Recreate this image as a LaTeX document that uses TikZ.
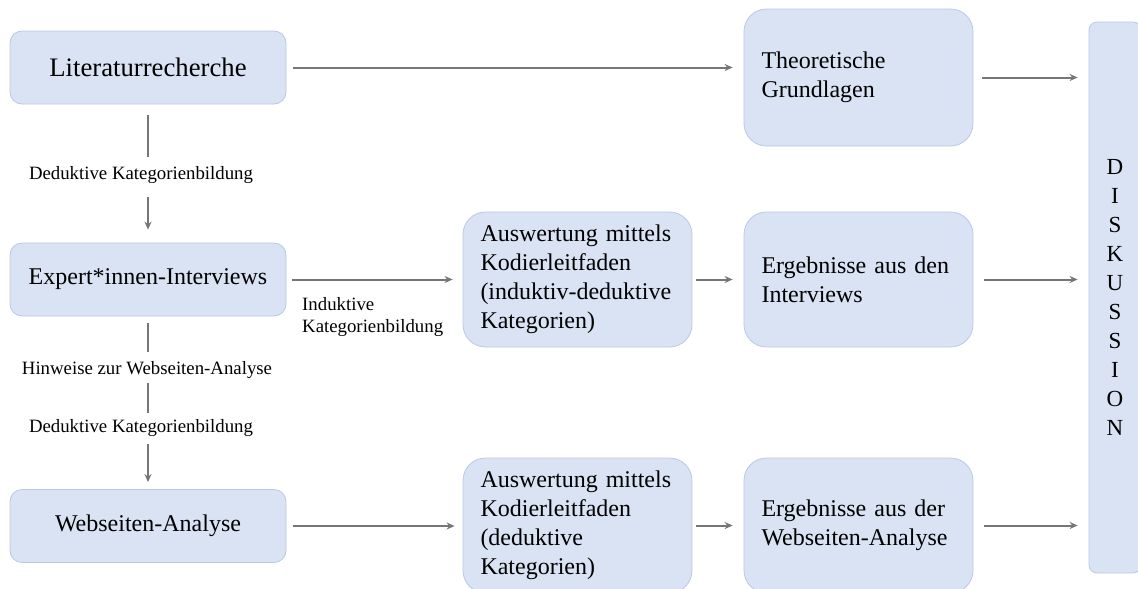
\documentclass[tikz,border=0pt]{standalone}
\usepackage{fontspec}
\setmainfont{Liberation Serif}
\usetikzlibrary{arrows.meta}
\definecolor{box_fill}{RGB}{218,227,243}
\definecolor{box_edge}{RGB}{184,201,230}
\definecolor{edge_gray}{RGB}{118,118,118}

\begin{document}
\begin{tikzpicture}[x=1pt,y=-1pt,->,>={Stealth[length=8pt,width=7pt]}]
    \tikzstyle{box}=[draw=box_edge, line width=0.8pt, fill=box_fill, text=black, font=\fontsize{24}{29}\selectfont]
    \tikzstyle{src}=[style=box, rounded corners=12pt, minimum width=276pt, minimum height=73pt, align=center]
    \tikzstyle{res}=[style=box, rounded corners=22.5pt, minimum width=229pt, minimum height=135pt, text width=194pt, inner xsep=17.5pt, align=left]
    \tikzstyle{disk}=[style=box, rounded corners=8pt, minimum width=52pt, minimum height=551pt, align=center, font=\fontsize{23}{29}\selectfont]
    \tikzstyle{lbl}=[inner sep=0pt, text=black, font=\fontsize{18.8}{22}\selectfont]
    \tikzstyle{every edge}=[draw=edge_gray, line width=2pt]

    \useasboundingbox (0,0) rectangle (1138,589);
    \clip (0,0) rectangle (1138,589);

    \node[src, font=\fontsize{26.7}{32}\selectfont] (lit) at (148,67.5) {Literaturrecherche};
    \node[src] (exp) at (148,279.5) {Expert*innen-Interviews};
    \node[src] (web) at (148,526) {Webseiten-Analyse};

    \node[res, minimum height=137pt] (theo) at (858.5,77.5) {Theoretische\\Grundlagen};
    \node[res] (aus_int) at (577.5,279.5) {Auswertung mittels\\Kodierleitfaden\\(induktiv-deduktive\\Kategorien)};
    \node[res] (erg_int) at (858.5,279.5) {Ergebnisse aus den\\Interviews};
    \node[res] (aus_web) at (577.5,525.5) {Auswertung mittels\\Kodierleitfaden\\(deduktive\\Kategorien)};
    \node[res] (erg_web) at (858.5,525.5) {Ergebnisse aus der\\Webseiten-Analyse};

    \node[disk] (disk) at (1115,297.5) {D\\I\\S\\K\\U\\S\\S\\I\\O\\N};

    \node[lbl] (ded_a) at (141,175) {Deduktive Kategorienbildung};
    \node[lbl] (hint) at (147,370) {Hinweise zur Webseiten-Analyse};
    \node[lbl] (ded_b) at (141,428) {Deduktive Kategorienbildung};
    \node[lbl, align=left, anchor=west] (ind) at (302,317) {Induktive\\Kategorienbildung};

    \path
     (lit.east) edge[shorten <=7pt, shorten >=11pt] (lit.east -| theo.west)
     (theo.east) edge[shorten <=9pt, shorten >=11pt] (theo.east -| disk.west)
     (exp.east) edge[shorten <=6pt, shorten >=10pt] (aus_int.west)
     (aus_int.east) edge[shorten <=4pt, shorten >=11pt] (erg_int.west)
     (erg_int.east) edge[shorten <=11pt, shorten >=11pt] (erg_int.east -| disk.west)
     (web.east) edge[shorten <=7pt, shorten >=8pt] (web.east -| aus_web.west)
     (aus_web.east) edge[shorten <=4pt, shorten >=11pt] (erg_web.west)
     (erg_web.east) edge[shorten <=11pt, shorten >=11pt] (erg_web.east -| disk.west)
     (lit.south) edge[-, shorten <=11pt, shorten >=9.5pt] (lit.south |- ded_a.north)
     (lit.south |- ded_a.south) edge[shorten <=13.5pt, shorten >=13pt] (exp.north)
     (exp.south) edge[-, shorten <=7pt, shorten >=9.5pt] (exp.south |- hint.north)
     (exp.south |- hint.south) edge[-, shorten <=4.5pt, shorten >=6.5pt] (exp.south |- ded_b.north)
     (exp.south |- ded_b.south) edge[shorten <=7.5pt, shorten >=7pt] (web.north)
     ;
\end{tikzpicture}
\end{document}
